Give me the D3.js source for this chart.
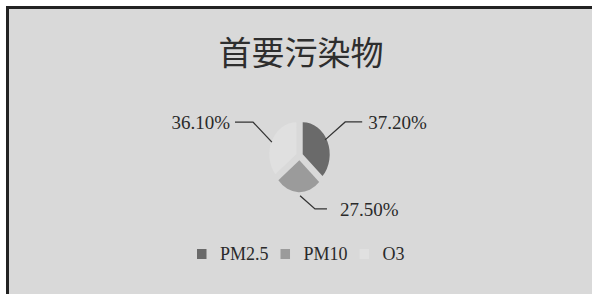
<!DOCTYPE html>
<html><head><meta charset="utf-8">
<script src="https://cdn.jsdelivr.net/npm/d3@7"></script>
<style>html,body{margin:0;padding:0;background:#fff;}</style>
</head><body>
<svg id="c" width="592" height="294"></svg>
<script>
const title = "首要污染物";
const categories = ["PM2.5", "PM10", "O3"];
const values = [37.2, 27.5, 36.1];
const labels = ["37.20%", "27.50%", "36.10%"];
const colors = ["#6a6a6a", "#9b9b9b", "#e0e0e0"];

const svg = d3.select("#c");
// frame
svg.append("rect").attr("x", 6).attr("y", 6).attr("width", 600).attr("height", 300).attr("fill", "#222");
svg.append("rect").attr("x", 9).attr("y", 9).attr("width", 600).attr("height", 300).attr("fill", "#d9d9d9");

svg.append("text").attr("x", 301).attr("y", 65).attr("text-anchor", "middle")
  .attr("font-family", "'Noto Sans CJK SC'").attr("font-size", 33).attr("fill", "#2e2e2e")
  .text(title);

const cx = 299.5, cy = 156, rx = 27, ry = 32, sy = ry / rx, off = 3.5;
const pie = d3.pie().sort(null).value(d => d)(values);
const arc = d3.arc().innerRadius(0).outerRadius(rx);
const g = svg.append("g").attr("transform", `translate(${cx},${cy})`);
pie.forEach((p, i) => {
  const mid = (p.startAngle + p.endAngle) / 2;
  const dx = Math.sin(mid) * off, dy = -Math.cos(mid) * off;
  g.append("g").attr("transform", `translate(${dx},${dy * sy}) scale(1,${sy})`)
    .append("path").attr("d", arc(p)).attr("fill", colors[i]);
});

// leader lines: [start angle (deg), start r, elbow angle, elbow r, horizontal length, text gap]
const leaderLayout = [
  [62, 29, 57.8, 54, 17, 6],
  [179, 33.5, 160.9, 47.3, 12, 13],
  [293, 30, 301.6, 54.6, -18, -5]
];
const pt = (a, r) => [cx + Math.sin(a * Math.PI / 180) * r, cy - Math.cos(a * Math.PI / 180) * r * sy];
pie.forEach((p, i) => {
  const [a0, r0, a1, r1, h, gap] = leaderLayout[i];
  const s = pt(a0, r0), e = pt(a1, r1), f = [e[0] + h, e[1]];
  svg.append("path").attr("d", d3.line()([s, e, f])).attr("fill", "none")
    .attr("stroke", "#333").attr("stroke-width", 1.3);
  svg.append("text").attr("x", f[0] + gap).attr("y", f[1] + 7)
    .attr("text-anchor", h < 0 ? "end" : "start")
    .attr("font-family", "'Liberation Serif'").attr("font-size", 19).attr("fill", "#2a2a2a")
    .text(labels[i]);
});

// legend
let lx = 197;
const leg = svg.append("g");
categories.forEach((c, i) => {
  leg.append("rect").attr("x", lx).attr("y", 249).attr("width", 9.5).attr("height", 10).attr("fill", colors[i]);
  const t = leg.append("text").attr("x", lx + 23).attr("y", 260)
    .attr("font-family", "'Liberation Serif'").attr("font-size", 18).attr("fill", "#2a2a2a").text(c);
  lx += 23 + t.node().getComputedTextLength() + 12;
});
</script>
</body></html>
